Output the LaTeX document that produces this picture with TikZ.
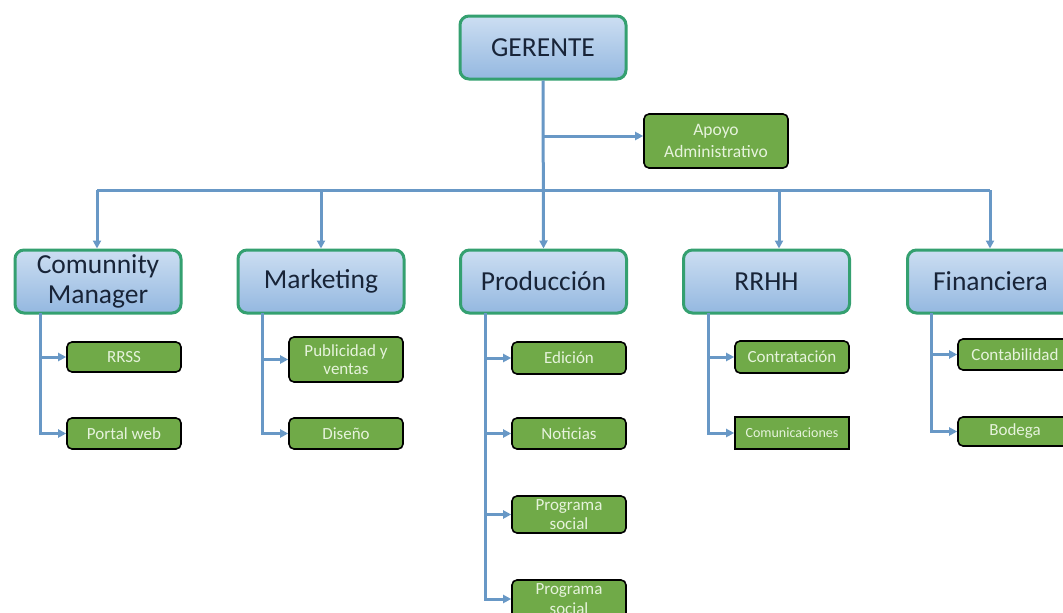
\documentclass[tikz,border=0pt]{standalone}
\usepackage{fontspec}
\setmainfont{Carlito}
\usetikzlibrary{arrows.meta,shadings}
\definecolor{lineblue}{RGB}{104,152,198}
\definecolor{boxborder}{RGB}{52,160,112}
\definecolor{bluetop}{RGB}{204,222,242}
\definecolor{bluebot}{RGB}{148,184,224}
\definecolor{greenfill}{RGB}{112,170,72}
\definecolor{greentext}{RGB}{230,243,220}
\definecolor{navytext}{RGB}{24,36,56}
\tikzset{
  bigbox/.style={draw=boxborder, line width=3pt, rounded corners=9pt,
    top color=bluetop, bottom color=bluebot, minimum width=166pt, minimum height=63pt,
    text=navytext, align=center, inner sep=0pt,
    font=\fontsize{27.5}{30}\selectfont},
  subbox/.style={draw=black, line width=1.6pt, rounded corners=5pt, fill=greenfill,
    minimum width=114pt, text=greentext, align=center, inner sep=0pt,
    font=\fontsize{17}{19}\selectfont},
  conn/.style={draw=lineblue, line width=3pt},
  arr/.style={conn, -{Triangle[length=8pt,width=8pt]}}
}
\begin{document}
\begin{tikzpicture}[x=1pt,y=-1pt]
\clip (0,0) rectangle (1063,613);
\fill[white] (0,0) rectangle (1063,613);
% level 1
\node[bigbox] (ger) at (543,47.5) {GERENTE};
\node[subbox, minimum width=144pt, minimum height=54pt, font=\fontsize{17.5}{21.5}\selectfont] (apoyo) at (716,141) {Apoyo\\Administrativo};
% level 2
\node[bigbox] (cm) at (98,281.5) {Comunnity\\Manager};
\node[bigbox] (mk) at (321,281.5) {Marketing};
\node[bigbox] (pr) at (543.5,281.5) {Producción};
\node[bigbox] (rh) at (766.5,281.5) {RRHH};
\node[bigbox] (fi) at (990.5,281.5) {Financiera};
% level 3
\node[subbox, minimum height=30pt] (rrss) at (124,357) {RRSS};
\node[subbox, minimum height=31pt] (portal) at (124,433.5) {Portal web};
\node[subbox, minimum height=45pt, font=\fontsize{17}{18.5}\selectfont] (pub) at (346,359.5) {Publicidad y\\ventas};
\node[subbox, minimum height=31pt] (dis) at (346,433.5) {Diseño};
\node[subbox, minimum height=32pt] (edi) at (569,358) {Edición};
\node[subbox, minimum height=31pt] (noti) at (569,433.5) {Noticias};
\node[subbox, minimum height=37pt, font=\fontsize{17}{19.5}\selectfont] (ps1) at (569,514.5) {Programa\\social};
\node[subbox, minimum height=38pt, font=\fontsize{17}{19.5}\selectfont] (ps2) at (569,599) {Programa\\social};
\node[subbox, minimum height=32pt] (con) at (792,357) {Contratación};
\node[subbox, minimum height=32pt, rounded corners=0pt, font=\fontsize{14}{16}\selectfont] (com) at (792,433) {Comunicaciones};
\node[subbox, minimum height=31pt] (cont) at (1015,354.5) {Contabilidad};
\node[subbox, minimum height=29pt] (bod) at (1015,431.5) {Bodega};
% coordinates
\coordinate (apj) at (544,136);
\coordinate (bA) at (97,190);
\coordinate (bB) at (321,190);
\coordinate (bC) at (544,190);
\coordinate (bD) at (779,190);
\coordinate (bE) at (990,190);
\coordinate (tA) at (40,313);
\coordinate (tB) at (262,313);
\coordinate (tC) at (485,313);
\coordinate (tD) at (708,313);
\coordinate (tE) at (931,313);
% connectors top
\draw[arr] (ger.south) -- (pr.north);
\draw[arr] (apj) -- (apoyo.west |- apj);
\draw[conn] (bA) -- (bE);
\draw[arr] (bA) -- (bA |- cm.north);
\draw[arr] (bB) -- (bB |- mk.north);
\draw[arr] (bD) -- (bD |- rh.north);
\draw[arr] (bE) -- (bE |- fi.north);
% sub connectors
\draw[arr] (tA) |- (rrss.west);
\draw[arr] (tA) |- (portal.west);
\draw[arr] (tB) |- (pub.west);
\draw[arr] (tB) |- (dis.west);
\draw[arr] (tC) |- (edi.west);
\draw[arr] (tC) |- (noti.west);
\draw[arr] (tC) |- (ps1.west);
\draw[arr] (tC) |- (ps2.west);
\draw[arr] (tD) |- (con.west);
\draw[arr] (tD) |- (com.west);
\draw[arr] (tE) |- (cont.west);
\draw[arr] (tE) |- (bod.west);
\end{tikzpicture}
\end{document}
